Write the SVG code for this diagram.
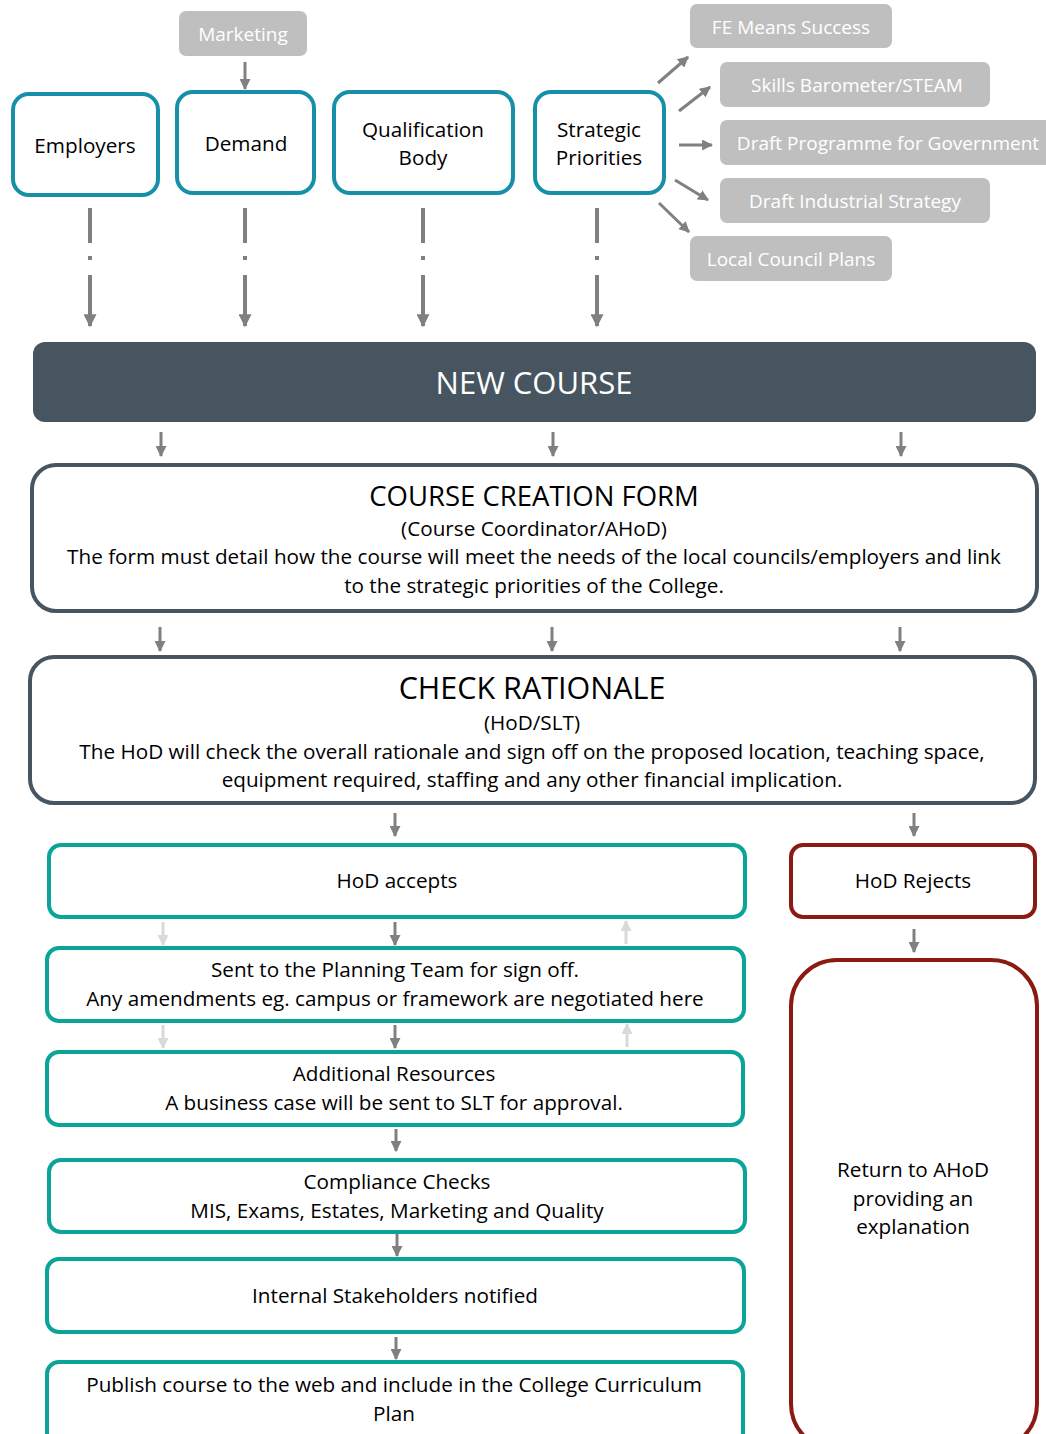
<svg xmlns="http://www.w3.org/2000/svg" width="1046" height="1434" viewBox="0 0 1046 1434">
<style>
text{font-family:"Open Sans","Noto Sans","DejaVu Sans",sans-serif;fill:#000;text-anchor:middle}
.tb{fill:#fff;stroke:#1590a8;stroke-width:4}
.gb{fill:#bfbfbf}
.gt{fill:#fff;font-size:19px}
.sb{fill:#fff;stroke:#46555f;stroke-width:4}
.gn{fill:#fff;stroke:#0aa598;stroke-width:4}
.rd{fill:#fff;stroke:#8b1b12;stroke-width:4}
.a{stroke:#808080;stroke-width:3;fill:none;marker-end:url(#ah)}
.al{stroke:#d9d9d9;stroke-width:3;fill:none;marker-end:url(#ahl)}
.ad{stroke:#808080;stroke-width:4;fill:none;stroke-dasharray:35 13 4 15 60;marker-end:url(#ah2)}
.t{font-size:20.7px}
</style>
<defs>
<marker id="ah" viewBox="0 0 10 10" refX="9" refY="5" markerWidth="11" markerHeight="11" markerUnits="userSpaceOnUse" orient="auto"><path d="M0,0L10,5L0,10z" fill="#808080"/></marker>
<marker id="ahl" viewBox="0 0 10 10" refX="9" refY="5" markerWidth="11" markerHeight="11" markerUnits="userSpaceOnUse" orient="auto"><path d="M0,0L10,5L0,10z" fill="#d9d9d9"/></marker>
<marker id="ah2" viewBox="0 0 10 10" refX="9" refY="5" markerWidth="13" markerHeight="13" markerUnits="userSpaceOnUse" orient="auto"><path d="M0,0L10,5L0,10z" fill="#808080"/></marker>
</defs>

<g id="connectors">
<line class="a" x1="245" y1="62" x2="245" y2="89"/>
<line class="ad" x1="90" y1="208" x2="90" y2="326"/>
<line class="ad" x1="245" y1="208" x2="245" y2="326"/>
<line class="ad" x1="423" y1="208" x2="423" y2="326"/>
<line class="ad" x1="597" y1="208" x2="597" y2="326"/>
<line class="a" x1="658" y1="83" x2="688" y2="57"/>
<line class="a" x1="679" y1="111" x2="710" y2="87"/>
<line class="a" x1="679" y1="145" x2="712" y2="145"/>
<line class="a" x1="675" y1="180" x2="708" y2="200"/>
<line class="a" x1="659" y1="203" x2="689" y2="232"/>
<line class="a" x1="161" y1="432" x2="161" y2="456"/>
<line class="a" x1="553" y1="432" x2="553" y2="456"/>
<line class="a" x1="901" y1="432" x2="901" y2="456"/>
<line class="a" x1="160" y1="627" x2="160" y2="651"/>
<line class="a" x1="552" y1="627" x2="552" y2="651"/>
<line class="a" x1="900" y1="627" x2="900" y2="651"/>
<line class="a" x1="395" y1="813" x2="395" y2="836"/>
<line class="a" x1="914" y1="813" x2="914" y2="836"/>
<line class="al" x1="163" y1="922" x2="163" y2="945"/>
<line class="a" x1="395" y1="922" x2="395" y2="945"/>
<line class="al" x1="626" y1="944" x2="626" y2="921"/>
<line class="al" x1="163" y1="1025" x2="163" y2="1048"/>
<line class="a" x1="395" y1="1025" x2="395" y2="1048"/>
<line class="al" x1="627" y1="1047" x2="627" y2="1024"/>
<line class="a" x1="396" y1="1129" x2="396" y2="1151"/>
<line class="a" x1="397" y1="1233" x2="397" y2="1256"/>
<line class="a" x1="396" y1="1337" x2="396" y2="1359"/>
<line class="a" x1="914" y1="929" x2="914" y2="952"/>
</g>

<g id="marketing"><rect class="gb" x="179" y="11" width="128" height="45" rx="7"/><text class="gt" x="243" y="41">Marketing</text></g>
<g id="employers"><rect class="tb" x="13" y="94" width="145" height="101" rx="16"/><text class="t" x="85" y="153">Employers</text></g>
<g id="demand"><rect class="tb" x="177" y="92" width="137" height="101" rx="16"/><text class="t" x="246" y="151">Demand</text></g>
<g id="qualification"><rect class="tb" x="334" y="92" width="179" height="101" rx="16"/><text class="t" x="423" y="137">Qualification</text><text class="t" x="423" y="165">Body</text></g>
<g id="strategic"><rect class="tb" x="535" y="92" width="129" height="101" rx="16"/><text class="t" x="599" y="137">Strategic</text><text class="t" x="599" y="165">Priorities</text></g>

<g id="fe"><rect class="gb" x="690" y="4" width="202" height="44" rx="7"/><text class="gt" x="791" y="34">FE Means Success</text></g>
<g id="skills"><rect class="gb" x="720" y="62" width="270" height="45" rx="7"/><text class="gt" x="857" y="92">Skills Barometer/STEAM</text></g>
<g id="draftprog"><rect class="gb" x="720" y="120" width="340" height="45" rx="7"/><text class="gt" x="888" y="150">Draft Programme for Government</text></g>
<g id="draftind"><rect class="gb" x="720" y="178" width="270" height="45" rx="7"/><text class="gt" x="855" y="208">Draft Industrial Strategy</text></g>
<g id="local"><rect class="gb" x="690" y="236" width="202" height="45" rx="7"/><text class="gt" x="791" y="266">Local Council Plans</text></g>

<g id="newcourse"><rect x="33" y="342" width="1003" height="80" rx="12" fill="#46555f"/><text x="534" y="394" style="fill:#fff;font-size:31px">NEW COURSE</text></g>

<g id="courseform"><rect class="sb" x="32" y="465" width="1005" height="146" rx="24"/>
<text x="534" y="506" style="font-size:27.5px">COURSE CREATION FORM</text>
<text class="t" x="534" y="536">(Course Coordinator/AHoD)</text>
<text class="t" x="534" y="564">The form must detail how the course will meet the needs of the local councils/employers and link</text>
<text class="t" x="534" y="593">to the strategic priorities of the College.</text></g>

<g id="rationale"><rect class="sb" x="30" y="657" width="1005" height="146" rx="24"/>
<text x="532" y="699" style="font-size:30.5px">CHECK RATIONALE</text>
<text class="t" x="532" y="730">(HoD/SLT)</text>
<text class="t" x="532" y="759">The HoD will check the overall rationale and sign off on the proposed location, teaching space,</text>
<text class="t" x="532" y="787">equipment required, staffing and any other financial implication.</text></g>

<g id="accepts"><rect class="gn" x="49" y="845" width="696" height="72" rx="12"/><text class="t" x="397" y="888">HoD accepts</text></g>
<g id="rejects"><rect class="rd" x="791" y="845" width="244" height="72" rx="12"/><text class="t" x="913" y="888">HoD Rejects</text></g>
<g id="planning"><rect class="gn" x="47" y="948" width="697" height="73" rx="12"/><text class="t" x="395" y="977">Sent to the Planning Team for sign off.</text><text class="t" x="395" y="1006">Any amendments eg. campus or framework are negotiated here</text></g>
<g id="resources"><rect class="gn" x="47" y="1052" width="696" height="73" rx="12"/><text class="t" x="394" y="1081">Additional Resources</text><text class="t" x="394" y="1110">A business case will be sent to SLT for approval.</text></g>
<g id="compliance"><rect class="gn" x="49" y="1160" width="696" height="72" rx="12"/><text class="t" x="397" y="1189">Compliance Checks</text><text class="t" x="397" y="1218">MIS, Exams, Estates, Marketing and Quality</text></g>
<g id="internal"><rect class="gn" x="47" y="1259" width="697" height="73" rx="12"/><text class="t" x="395" y="1303">Internal Stakeholders notified</text></g>
<g id="publish"><rect class="gn" x="47" y="1362" width="696" height="90" rx="12"/><text class="t" x="394" y="1392">Publish course to the web and include in the College Curriculum</text><text class="t" x="394" y="1421">Plan</text></g>
<g id="return"><rect class="rd" x="791" y="960" width="246" height="490" rx="46"/><text class="t" x="913" y="1177">Return to AHoD</text><text class="t" x="913" y="1206">providing an</text><text class="t" x="913" y="1234">explanation</text></g>
</svg>
